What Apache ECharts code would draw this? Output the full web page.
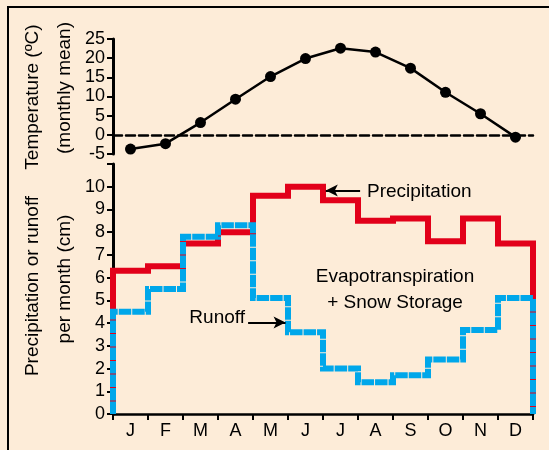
<!DOCTYPE html>
<html>
<head>
<meta charset="utf-8">
<script src="https://cdn.jsdelivr.net/npm/echarts@6/dist/echarts.min.js"></script>
<style>
html,body{margin:0;padding:0;background:#fdecd8;}
#c{width:549px;height:450px;}
</style>
</head>
<body>
<div id="c"></div>
<script>
// ---- data ----
var months = ['J','F','M','A','M','J','J','A','S','O','N','D'];
var temperature = [-3.7, -2.3, 3.2, 9.3, 15.2, 19.9, 22.6, 21.6, 17.4, 11.1, 5.5, -0.6];
var precipitation = [6.3, 6.5, 7.5, 8.0, 9.6, 10.0, 9.4, 8.5, 8.6, 7.6, 8.6, 7.5];
var runoff = [4.5, 5.5, 7.8, 8.3, 5.1, 3.6, 2.0, 1.4, 1.7, 2.4, 3.7, 5.1];
var tempTicks = [-5, 0, 5, 10, 15, 20, 25];
var cmTicks = [0,1,2,3,4,5,6,7,8,9,10];

var FONT = "'Liberation Sans', Arial, Helvetica, sans-serif";
var RED = '#e2001a', BLUE = '#00a7ea';

function stepPoints(vals){
  var pts = [[0,0]];
  for (var i = 0; i < vals.length; i++) pts.push([i, vals[i]]);
  pts.push([vals.length, vals[vals.length-1]]);
  pts.push([vals.length, 0]);
  return pts;
}
var tempPts = temperature.map(function(v,i){ return [i+0.5, v]; });

var chart = echarts.init(document.getElementById('c'), null, {renderer:'canvas'});
chart.setOption({
  backgroundColor: '#fdecd8',
  animation: false,
  textStyle: {fontFamily: FONT},
  grid: [
    {left:113, right:16, top:39, height:115},
    {left:113, right:16, top:164, bottom:36}
  ],
  xAxis: [
    {gridIndex:0, type:'value', min:0, max:12, interval:1,
     axisLine:{show:true, onZero:true, lineStyle:{color:'#000', width:2.5, type:[9,4]}},
     axisTick:{show:false}, axisLabel:{show:false}, splitLine:{show:false}},
    {gridIndex:1, type:'category', data:months, boundaryGap:true, position:'bottom',
     axisLine:{show:true, lineStyle:{color:'#000', width:2.5}},
     axisTick:{show:true, length:6, lineStyle:{color:'#000', width:2}},
     axisLabel:{color:'#000', fontSize:18, fontFamily:FONT, margin:8},
     splitLine:{show:false}},
    {gridIndex:1, type:'value', min:0, max:12, position:'top', show:false}
  ],
  yAxis: [
    {gridIndex:0, type:'value', min:-5, max:25, interval:5,
     axisLine:{show:true, lineStyle:{color:'#000', width:3}},
     axisTick:{show:true, length:6, lineStyle:{color:'#000', width:2}},
     axisLabel:{color:'#000', fontSize:18, fontFamily:FONT, margin:8,
       formatter:function(v){ return tempTicks.indexOf(v) >= 0 ? String(v) : ''; }},
     splitLine:{show:false}},
    {gridIndex:1, type:'value', min:0, max:11, interval:1,
     axisLine:{show:true, lineStyle:{color:'#000', width:3}},
     axisTick:{show:true, length:6, lineStyle:{color:'#000', width:2}},
     axisLabel:{color:'#000', fontSize:18, fontFamily:FONT, margin:8,
       formatter:function(v){ return cmTicks.indexOf(v) >= 0 ? String(v) : ''; }},
     splitLine:{show:false}}
  ],
  series: [
    {type:'line', xAxisIndex:0, yAxisIndex:0, data:tempPts, clip:false,
     symbol:'circle', symbolSize:11, itemStyle:{color:'#000'},
     lineStyle:{color:'#000', width:2.5}, z:5},
    {type:'line', name:'Precipitation', xAxisIndex:2, yAxisIndex:1, data:stepPoints(precipitation),
     step:'end', clip:false, symbol:'none',
     lineStyle:{color:RED, width:6, join:'miter', cap:'butt'}, z:3,
     markLine:{silent:true, symbol:['none','arrow'], symbolSize:[9,12], label:{show:false},
       lineStyle:{color:'#000', width:2, type:'solid'},
       data:[[{coord:[7.06, 9.83]},{coord:[6.08, 9.83]}]]}},
    {type:'line', name:'Runoff', xAxisIndex:2, yAxisIndex:1, data:stepPoints(runoff),
     step:'end', clip:false, symbol:'none',
     lineStyle:{color:BLUE, width:6, type:[12.5,1], join:'miter', cap:'butt'}, z:4,
     markLine:{silent:true, symbol:['none','arrow'], symbolSize:[9,12], label:{show:false},
       lineStyle:{color:'#000', width:2, type:'solid'},
       data:[[{coord:[3.86, 4.03]},{coord:[4.93, 4.03]}]]}}
  ],
  graphic: [
    {type:'rect', shape:{x:8, y:7, width:700, height:600}, style:{fill:null, stroke:'#000', lineWidth:2}, silent:true, z:0},
    {type:'text', x:33, y:97, rotation:Math.PI/2, style:{text:'Temperature (ºC)', font:'19px '+FONT, fill:'#000', textAlign:'center', textVerticalAlign:'middle'}},
    {type:'text', x:65, y:88, rotation:Math.PI/2, style:{text:'(monthly mean)', font:'19px '+FONT, fill:'#000', textAlign:'center', textVerticalAlign:'middle'}},
    {type:'text', x:33, y:286, rotation:Math.PI/2, style:{text:'Precipitation or runoff', font:'19px '+FONT, fill:'#000', textAlign:'center', textVerticalAlign:'middle'}},
    {type:'text', x:65, y:279, rotation:Math.PI/2, style:{text:'per month (cm)', font:'19px '+FONT, fill:'#000', textAlign:'center', textVerticalAlign:'middle'}},
    {type:'text', x:367, y:192, style:{text:'Precipitation', font:'19px '+FONT, fill:'#000', textAlign:'left', textVerticalAlign:'middle'}},
    {type:'text', x:245, y:318, style:{text:'Runoff', font:'19px '+FONT, fill:'#000', textAlign:'right', textVerticalAlign:'middle'}},
    {type:'text', x:395, y:277, style:{text:'Evapotranspiration', font:'19px '+FONT, fill:'#000', textAlign:'center', textVerticalAlign:'middle'}},
    {type:'text', x:395, y:303, style:{text:'+ Snow Storage', font:'19px '+FONT, fill:'#000', textAlign:'center', textVerticalAlign:'middle'}}
  ]
});
</script>
</body>
</html>
